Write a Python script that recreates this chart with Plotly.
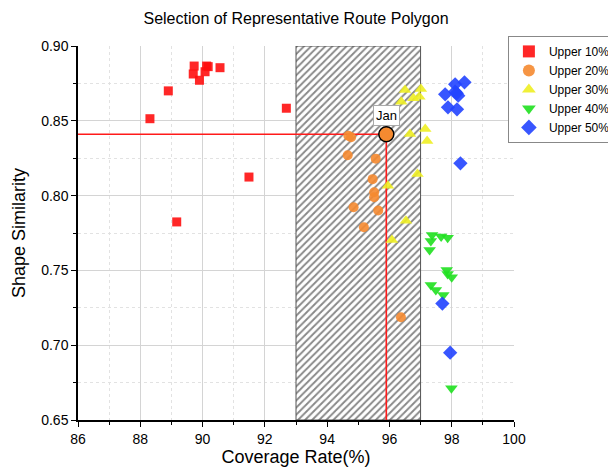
import plotly.graph_objects as go

# ---- data ----
up10_x = [89.73, 90.13, 90.18, 90.56, 89.70, 90.08, 89.90, 88.90, 88.31, 92.69, 91.49, 89.17]
up10_y = [0.8866, 0.8866, 0.8862, 0.8855, 0.8813, 0.8828, 0.8771, 0.8700, 0.8514, 0.8584, 0.8124, 0.7824]

up20_x = [94.68, 94.77, 94.66, 95.56, 95.46, 95.51, 95.51, 94.85, 95.64, 95.18, 96.37]
up20_y = [0.8400, 0.8390, 0.8270, 0.8247, 0.8110, 0.8022, 0.7989, 0.7922, 0.7900, 0.7788, 0.7187]

up30_x = [96.50, 97.01, 96.38, 96.77, 96.96, 96.66, 97.15, 97.21, 96.90, 95.95, 96.53, 96.08]
up30_y = [0.8706, 0.8713, 0.8628, 0.8650, 0.8660, 0.8412, 0.8445, 0.8365, 0.8144, 0.8066, 0.7832, 0.7703]

up40_x = [97.37, 97.66, 97.87, 97.33, 97.29, 97.84, 97.87, 98.00, 97.33, 97.49, 97.73, 97.99]
up40_y = [0.7737, 0.7726, 0.7719, 0.7697, 0.7636, 0.7503, 0.7476, 0.7454, 0.7402, 0.7369, 0.7336, 0.6712]

up50_x = [98.41, 98.11, 97.79, 98.11, 98.21, 98.16, 97.88, 98.17, 98.28, 97.70, 97.95]
up50_y = [0.8757, 0.8744, 0.8677, 0.8695, 0.8668, 0.8684, 0.8590, 0.8577, 0.8216, 0.7278, 0.6950]

jan_x = [95.9]
jan_y = [0.841]
jan_label = "Jan"

hatch_x = [93, 97]
hatch_y = [0.65, 0.90]

x_ticks = [86, 88, 90, 92, 94, 96, 98, 100]
y_ticks = [0.65, 0.70, 0.75, 0.80, 0.85, 0.90]

series_names = ["Upper 10%", "Upper 20%", "Upper 30%", "Upper 40%", "Upper 50%"]

FONT = "Liberation Sans, Arial"

# ---- figure ----
fig = go.Figure()

# hatched selection region
fig.add_trace(go.Scatter(
    x=[hatch_x[0], hatch_x[1], hatch_x[1], hatch_x[0], hatch_x[0]],
    y=[hatch_y[0], hatch_y[0], hatch_y[1], hatch_y[1], hatch_y[0]],
    mode="lines", fill="toself",
    fillcolor="white",
    fillpattern=dict(shape="/", fgcolor="#111111", bgcolor="white", size=5, solidity=0.38),
    line=dict(color="#555555", width=1),
    showlegend=False, hoverinfo="skip"))

# red guide lines to Jan point
fig.add_trace(go.Scatter(
    x=[86, jan_x[0], jan_x[0]], y=[jan_y[0], jan_y[0], 0.65],
    mode="lines", line=dict(color="#ff1a1a", width=1.6),
    showlegend=False, hoverinfo="skip"))

specs = [
    (up10_x, up10_y, "square", "#ff1010", 9),
    (up20_x, up20_y, "circle", "#f58a30", 10),
    (up30_x, up30_y, "triangle-up", "#eeee22", 11),
    (up40_x, up40_y, "triangle-down", "#1fe01f", 11),
    (up50_x, up50_y, "diamond", "#2244ff", 11),
]
for (xs, ys, sym, col, sz), name in zip(specs, series_names):
    fig.add_trace(go.Scatter(
        x=xs, y=ys, mode="markers", name=name,
        marker=dict(symbol=sym, color=col, size=sz, opacity=0.9, line=dict(width=0))))

fig.add_trace(go.Scatter(
    x=jan_x, y=jan_y, mode="markers", showlegend=False,
    marker=dict(symbol="circle", color="#f58a30", size=15, line=dict(color="black", width=1.5))))

fig.add_annotation(
    x=jan_x[0], y=jan_y[0], text=jan_label, showarrow=False, yshift=19,
    font=dict(family=FONT, size=13, color="black"),
    bgcolor="white", bordercolor="#aaaaaa", borderwidth=1, borderpad=2)

axis_common = dict(
    showline=True, linecolor="black", linewidth=1.5,
    ticks="outside", ticklen=5, tickwidth=1.2, tickcolor="black",
    showgrid=True, gridcolor="#d4d4d4", gridwidth=1,
    zeroline=False, mirror=False,
    tickfont=dict(family=FONT, size=14, color="black"),
)

fig.update_xaxes(
    range=[86, 100], tickvals=x_ticks, **axis_common,
    title=dict(text="Coverage Rate(%)", font=dict(family=FONT, size=18, color="black"), standoff=5),
    minor=dict(dtick=1, ticks="outside", ticklen=3, tickcolor="black",
               showgrid=True, gridcolor="#e2e2e2", griddash="dot"))
fig.update_yaxes(
    range=[0.65, 0.90], tickvals=y_ticks, tickformat=".2f", **axis_common,
    title=dict(text="Shape Similarity", font=dict(family=FONT, size=18, color="black"), standoff=11),
    minor=dict(dtick=0.025, ticks="outside", ticklen=3, tickcolor="black",
               showgrid=True, gridcolor="#e2e2e2", griddash="dot"))

fig.update_layout(
    width=608, height=468,
    margin=dict(l=70, r=102, t=38, b=56, autoexpand=False),
    plot_bgcolor="white", paper_bgcolor="white",
    title=dict(text="Selection of Representative Route Polygon", x=0.5, xref="paper",
               y=0.978, yanchor="middle",
               font=dict(family=FONT, size=16, color="black")),
    legend=dict(x=0.986, xanchor="left", y=1.027, yanchor="top",
                bordercolor="#888888", borderwidth=1, bgcolor="white",
                font=dict(family=FONT, size=12, color="black"),
                itemsizing="constant", tracegroupgap=0),
    showlegend=True,
)

fig.write_html("out.html")
